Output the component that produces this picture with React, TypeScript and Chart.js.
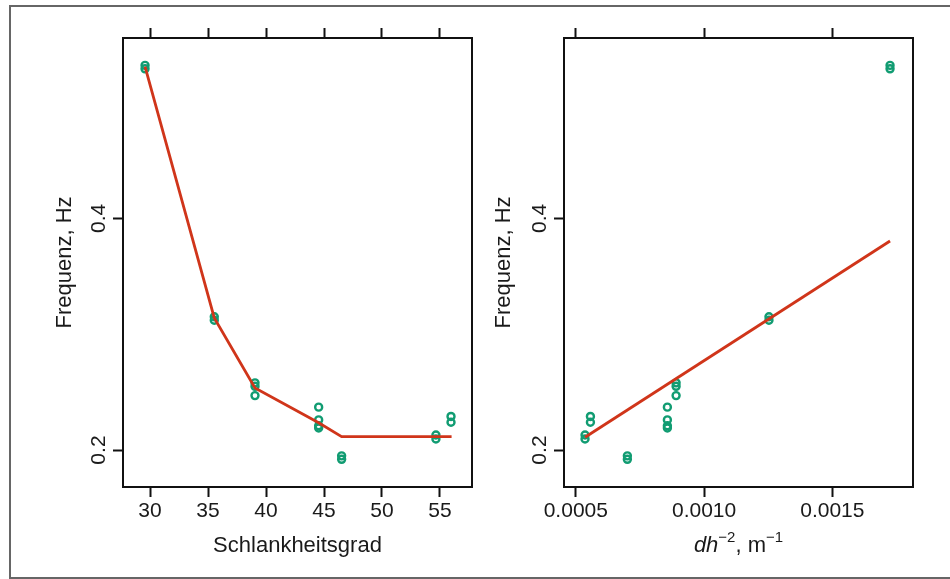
import React, { useEffect, useRef } from "react";
import { Chart, registerables } from "chart.js";

Chart.register(...registerables);

// ---- Data ----
const slenderness = [29.57, 29.57, 35.54, 35.54, 39.05, 39.05, 39.05, 44.54, 44.54, 44.54, 44.54, 46.52, 46.52, 54.65, 54.65, 55.95, 55.95];
const dh2 = [0.001725, 0.001725, 0.001253, 0.001253, 0.000891, 0.000891, 0.000891, 0.000857, 0.000857, 0.000857, 0.000857, 0.000701, 0.000701, 0.000536, 0.000536, 0.000557, 0.000557];
const frequency = [0.532, 0.529, 0.315, 0.312, 0.258, 0.255, 0.247, 0.237, 0.226, 0.221, 0.219, 0.195, 0.192, 0.213, 0.2095, 0.229, 0.224];

const fitSlenderX = [29.57, 35.54, 39.05, 44.54, 46.52, 56.0];
const fitSlenderY = [0.531, 0.314, 0.2535, 0.2236, 0.2115, 0.2115];
const fitDhX = [0.000536, 0.001725];
const fitDhY = [0.211, 0.3804];

const xTicksSlender = [30, 35, 40, 45, 50, 55];
const xTicksDh = [0.0005, 0.001, 0.0015];
const yTicks = [0.2, 0.4];

const yTitle = "Frequenz, Hz";
const xTitleSlender = "Schlankheitsgrad";

const FONT = "'Liberation Sans', Arial, Helvetica, sans-serif";
const GREEN = "#119c72";
const RED = "#d0351a";
const INK = "#111111";

const pairs = (xs: number[], ys: number[]) => xs.map((x, i) => ({ x, y: ys[i] }));

const boxPlugin = {
  id: "boxPlugin",
  afterDraw(chart: any) {
    const { ctx, chartArea: a } = chart;
    ctx.save();
    ctx.strokeStyle = INK;
    ctx.lineWidth = 2;
    ctx.strokeRect(a.left, a.top, a.right - a.left, a.bottom - a.top);
    ctx.restore();
  },
};

const dhTitlePlugin = {
  id: "dhTitle",
  afterDraw(chart: any) {
    const { ctx, chartArea: a } = chart;
    const segs = [
      { t: "dh", f: `italic 22px ${FONT}`, dy: 0 },
      { t: "\u22122", f: `15px ${FONT}`, dy: -8 },
      { t: ", m", f: `22px ${FONT}`, dy: 0 },
      { t: "\u22121", f: `15px ${FONT}`, dy: -8 },
    ];
    ctx.save();
    ctx.fillStyle = "#1a1a1a";
    ctx.textBaseline = "middle";
    ctx.textAlign = "left";
    let total = 0;
    const widths = segs.map((s) => {
      ctx.font = s.f;
      const w = ctx.measureText(s.t).width;
      total += w;
      return w;
    });
    let x = (a.left + a.right) / 2 - total / 2;
    const y = 546;
    segs.forEach((s, i) => {
      ctx.font = s.f;
      ctx.fillText(s.t, x, y + s.dy);
      x += widths[i];
    });
    ctx.restore();
  },
};

function makeConfig(opts: {
  pts: { x: number; y: number }[];
  fit: { x: number; y: number }[];
  xmin: number;
  xmax: number;
  xTicks: number[];
  xFmt: (v: number) => string;
  xTitle: string | null;
  padLeft: number;
  padRight: number;
  yWidth: number;
  extraPlugins: any[];
}): any {
  const tickGrid = {
    display: true,
    drawOnChartArea: false,
    drawTicks: true,
    tickLength: 10,
    tickWidth: 2,
    tickColor: INK,
    color: INK,
  };
  return {
    type: "scatter",
    data: {
      datasets: [
        {
          type: "line",
          data: opts.fit,
          borderColor: RED,
          borderWidth: 2.8,
          pointRadius: 0,
          fill: false,
          tension: 0,
        },
        {
          type: "scatter",
          data: opts.pts,
          pointStyle: "circle",
          pointRadius: 3.5,
          borderWidth: 2.4,
          borderColor: GREEN,
          backgroundColor: "rgba(0,0,0,0)",
        },
      ],
    },
    options: {
      animation: false,
      responsive: true,
      maintainAspectRatio: false,
      layout: { padding: { left: opts.padLeft, right: opts.padRight, top: 28, bottom: 20 } },
      plugins: { legend: { display: false }, tooltip: { enabled: false } },
      events: [],
      scales: {
        x: {
          type: "linear",
          position: "bottom",
          min: opts.xmin,
          max: opts.xmax,
          afterBuildTicks: (s: any) => {
            s.ticks = opts.xTicks.map((v) => ({ value: v }));
          },
          afterFit: (s: any) => {
            s.height = 72;
          },
          ticks: {
            padding: 2,
            color: "#1a1a1a",
            font: { family: FONT, size: 21 },
            maxRotation: 0,
            minRotation: 0,
            autoSkip: false,
            callback: (v: any) => opts.xFmt(Number(v)),
          },
          grid: tickGrid,
          border: { display: false },
          title: {
            display: !!opts.xTitle,
            text: opts.xTitle || "",
            color: "#1a1a1a",
            font: { family: FONT, size: 22 },
            padding: 0,
          },
        },
        x2: {
          type: "linear",
          position: "top",
          min: opts.xmin,
          max: opts.xmax,
          afterBuildTicks: (s: any) => {
            s.ticks = opts.xTicks.map((v) => ({ value: v }));
          },
          afterFit: (s: any) => {
            s.height = 10;
          },
          ticks: { display: false },
          grid: tickGrid,
          border: { display: false },
        },
        y: {
          type: "linear",
          position: "left",
          min: 0.1681,
          max: 0.5556,
          afterBuildTicks: (s: any) => {
            s.ticks = yTicks.map((v) => ({ value: v }));
          },
          afterFit: (s: any) => {
            s.width = opts.yWidth;
          },
          ticks: {
            padding: -1,
            crossAlign: "center",
            minRotation: 90,
            maxRotation: 90,
            autoSkip: false,
            color: "#1a1a1a",
            font: { family: FONT, size: 21 },
            callback: (v: any) => Number(v).toFixed(1),
          },
          grid: tickGrid,
          border: { display: false },
          title: {
            display: true,
            text: yTitle,
            color: "#1a1a1a",
            font: { family: FONT, size: 22 },
            padding: 0,
          },
        },
      },
    },
    plugins: [boxPlugin, ...opts.extraPlugins],
  };
}

export default function App() {
  const r1 = useRef<HTMLCanvasElement>(null);
  const r2 = useRef<HTMLCanvasElement>(null);

  useEffect(() => {
    const c1 = new Chart(
      r1.current as HTMLCanvasElement,
      makeConfig({
        pts: pairs(slenderness, frequency),
        fit: pairs(fitSlenderX, fitSlenderY),
        xmin: 27.67,
        xmax: 57.76,
        xTicks: xTicksSlender,
        xFmt: (v) => String(v),
        xTitle: xTitleSlender,
        padLeft: 52,
        padRight: 8,
        yWidth: 71,
        extraPlugins: [],
      })
    );
    const c2 = new Chart(
      r2.current as HTMLCanvasElement,
      makeConfig({
        pts: pairs(dh2, frequency),
        fit: pairs(fitDhX, fitDhY),
        xmin: 0.000454,
        xmax: 0.0018145,
        xTicks: xTicksDh,
        xFmt: (v) => v.toFixed(4),
        xTitle: null,
        padLeft: 11,
        padRight: 37,
        yWidth: 73,
        extraPlugins: [dhTitlePlugin],
      })
    );
    return () => {
      c1.destroy();
      c2.destroy();
    };
  }, []);

  return (
    <div
      style={{
        position: "fixed",
        left: 0,
        top: 0,
        width: 950,
        height: 579,
        background: "#ffffff",
        overflow: "hidden",
      }}
    >
      <div
        style={{
          position: "absolute",
          left: 9,
          top: 5,
          width: 980,
          height: 574,
          border: "2px solid #666666",
          boxSizing: "border-box",
        }}
      />
      <div style={{ position: "absolute", left: 0, top: 0, width: 480, height: 579 }}>
        <canvas ref={r1} />
      </div>
      <div style={{ position: "absolute", left: 480, top: 0, width: 470, height: 579 }}>
        <canvas ref={r2} />
      </div>
    </div>
  );
}
